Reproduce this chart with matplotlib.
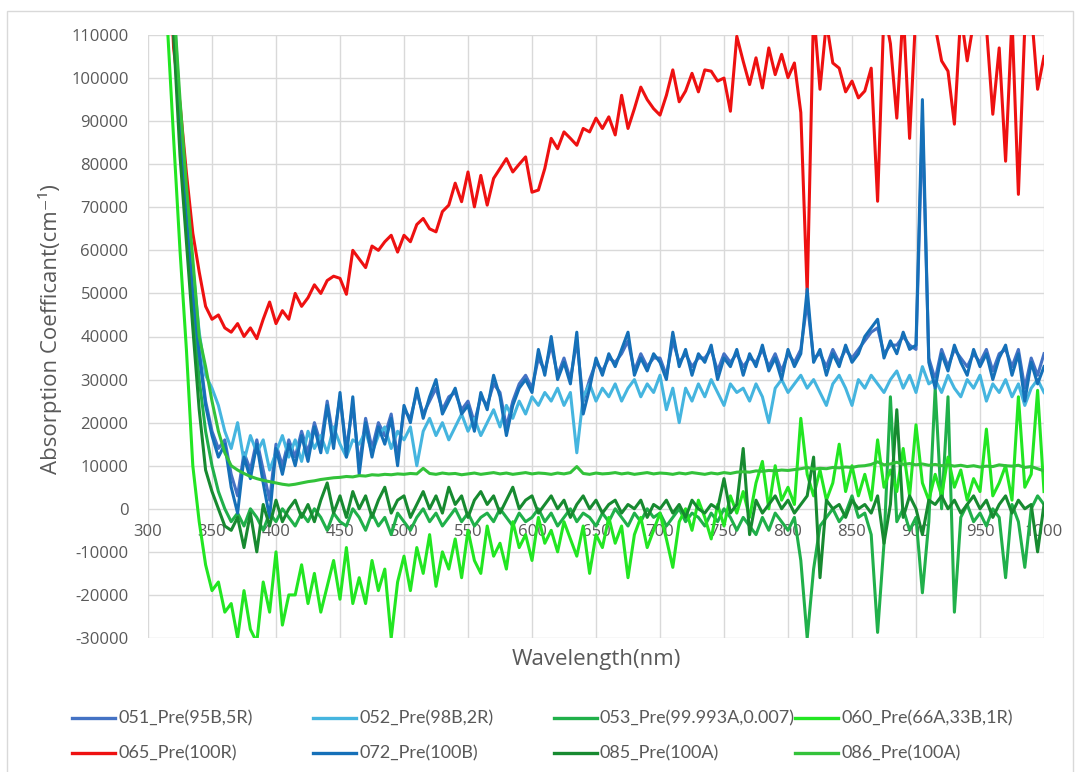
import matplotlib
matplotlib.use('Agg')
import numpy as np
from matplotlib import pyplot as plt
from matplotlib.lines import Line2D
from matplotlib.patches import Rectangle

plt.rcParams['font.family'] = ['Open Sans', 'DejaVu Sans']
plt.rcParams['axes.unicode_minus'] = False

# wavelength grid (nm), absorption values below are in units of 1000 cm^-1
wl = list(range(315, 1001, 5))

pre051 = [150, 113, 87, 69, 51, 37, 25, 18, 14, 16,
          8, 3, 13, 9, 16, 9, 2, 15, 10, 16,
          12, 18, 13, 20, 15, 25, 16, 26, 14, 24,
          10, 21, 14, 20, 17, 22, 12, 23, 21, 27,
          22, 25, 28, 23, 26, 27, 23, 25, 20, 26,
          24, 29, 27, 19, 25, 29, 31, 28, 35, 32,
          38, 31, 35, 30, 39, 25, 30, 34, 32, 35,
          34, 36, 39, 32, 36, 33, 35, 35, 31, 39,
          34, 36, 33, 35, 35, 37, 32, 36, 34, 36,
          33, 35, 34, 37, 33, 36, 32, 36, 34, 37,
          48, 35, 36, 33, 37, 34, 37, 35, 37, 39,
          41, 42, 36, 38, 38, 40, 38, 37, 90, 35,
          30, 37, 33, 37, 35, 33, 36, 34, 37, 32,
          36, 37, 33, 37, 28, 35, 31, 36]

pre052 = [150, 118, 92, 74, 56, 41, 31, 28, 24, 18,
          14, 20, 11, 17, 13, 16, 9, 13, 17, 12,
          16, 11, 18, 14, 17, 13, 19, 15, 12, 16,
          15, 18, 13, 17, 19, 14, 18, 16, 19, 10,
          18, 21, 17, 20, 16, 19, 22, 18, 21, 17,
          20, 23, 19, 24, 21, 25, 22, 26, 24, 27,
          25, 28, 24, 27, 13, 26, 29, 25, 28, 26,
          29, 25, 28, 30, 26, 29, 27, 31, 23, 28,
          20, 28, 25, 29, 26, 30, 27, 24, 29, 27,
          28, 25, 29, 26, 20, 28, 30, 27, 29, 31,
          28, 30, 27, 24, 29, 31, 28, 24, 30, 28,
          31, 29, 27, 30, 32, 28, 31, 27, 33, 29,
          30, 27, 31, 28, 26, 30, 28, 31, 25, 29,
          27, 30, 26, 29, 24, 28, 30, 27]

pre053 = [150, 115, 88, 66, 46, 30, 18, 10, 4, 0,
          -3, -1, -4, 0, -2, -5, -1, -3, 0, -2,
          -4, -1, -3, 0, -2, -5, -1, -3, -4, 0,
          -2, -5, -1, -4, -2, -6, -1, -3, -5, -2,
          0, -3, -1, -4, -2, 0, -3, -1, -4, -2,
          -1, -3, 0, -2, -4, -1, -3, -2, 0, -3,
          -1, -4, -2, 0, -3, -1, -2, -4, -1, -3,
          0, -2, -4, -1, -3, 0, -2, -1, -4, -2,
          0, -3, -1, -2, -4, -1, -3, 0, -2, -5,
          -2, -4, -6, -2, -5, -1, -3, -5, -2, -12,
          -30, -14, -4, -2, 0, -3, -1, 3, -2, -1,
          -6, -28.7, -8, 26, -3, 0, -5, -2, -19.5, -3,
          28, 0, 26, -24, -2, 1, -3, -1, -4, 0,
          -2, -16, 1, -3, -13.6, 0, 3, 1]

pre060 = [113, 86, 60, 37, 10, -3, -13, -19, -17, -24,
          -22, -30, -19, -28, -31, -17, -24, -10, -27, -20,
          -20, -13, -22, -15, -24, -18, -12, -21, -9, -22,
          -16, -22, -12, -19, -14, -30, -17, -11, -19, -9,
          -15, -6, -18, -10, -14, -7, -16, -5, -12, -15,
          -4, -11, -8, -14, -3, -9, -6, -12, -2, -8,
          -5, -10, -3, -7, -11, -4, -15, -6, -9, -2,
          -8, -4, -16, -6, -2, -9, -5, -1, -7, -13.6,
          -3, 0, -5, 2, -2, -7, 1, -4, 3, -1,
          4, -2, 6, 11, 0, 10, 2, 5, 1, 21,
          8, 3, 9, 2, 6, 15, 4, 10, 3, 8,
          2, 16, 5, 9, 4, 14, 3, 19.5, 6, 2,
          8, 3, 12, 5, 9, 2, 7, 4, 18.5, 3,
          6, 10, 2, 26, 5, 8, 27.5, 4]

pre065 = [140, 107, 94, 78, 64, 55, 47, 44, 45, 42,
          41, 43, 40, 42, 39.5, 44, 48, 43, 46, 44,
          50, 47, 49, 52, 50, 53, 54, 53.5, 49.8, 60,
          58, 56, 61, 60, 62, 63.5, 59.6, 63.5, 62, 66,
          67.4, 65, 64.3, 69, 70.5, 75.6, 71.3, 78.2, 70.1, 77.4,
          70.5, 76.7, 79, 81.3, 78.2, 80, 81.7, 73.5, 74, 79,
          86, 83.6, 87.5, 86, 84.4, 88.3, 87.5, 90.7, 88.3, 91,
          86.8, 96, 88.3, 92.9, 97.9, 95, 92.9, 91.4, 96, 101.9,
          94.5, 97, 101.1, 96.8, 101.9, 101.6, 99.3, 100, 92.3, 109.7,
          103.9, 98.5, 104.7, 97.7, 107, 100.8, 105.5, 100.1, 103.5, 92,
          50, 116, 97.4, 113, 103.5, 102.3, 96.8, 99.3, 95.4, 97,
          102.3, 71.4, 116, 108, 90.7, 116, 86, 116, 120, 115,
          112, 104, 101.6, 89.3, 115, 104, 113, 116, 112, 91.6,
          107, 80.7, 114, 73, 112, 116, 97.4, 105]

pre072 = [150, 112, 86, 68, 50, 36, 24, 17, 12, 15,
          5, -1, 12, 7, 15, 6, -2, 14, 8, 15,
          10, 17, 11, 19, 13, 24, 14, 27, 12, 26,
          8, 20, 12, 19, 15, 21, 10, 24, 20, 28,
          21, 26, 30, 22, 25, 28, 22, 24, 18, 27,
          23, 31, 26, 17, 24, 28, 30, 27, 37, 31,
          40, 30, 34, 29, 41, 22, 28, 35, 31, 36,
          33, 37, 41, 31, 35, 32, 36, 34, 30, 41,
          33, 37, 31, 36, 34, 38, 30, 35, 33, 37,
          31, 36, 33, 38, 32, 35, 30, 37, 33, 36,
          51, 34, 37, 31, 36, 33, 38, 34, 36, 40,
          42, 44, 35, 39, 36, 41, 37, 38, 95, 34,
          28, 36, 32, 38, 34, 31, 37, 33, 36, 30,
          35, 38, 31, 36, 25, 34, 29, 33]

pre085 = [150, 110, 82, 62, 42, 23, 9, 4, 0, -4,
          -5, -2, -9, -1, -10, 1, -4, 2, -3, 0,
          2, -2, 1, -3, 2, 6, -1, 3, -2, 4,
          0, 3, -2, 2, 5, -1, 2, 3, -2, 1,
          4, 0, 3, -1, 5, 1, 3, -2, 2, 4,
          1, 3, -1, 2, 5, 0, 2, 3, -1, 1,
          3, 0, 2, -2, 1, 3, 0, 2, -1, 1,
          2, -1, 1, 0, 2, -2, 1, 0, 2, -1,
          1, -2, 2, 0, -1, 1, 0, 7, -1, 1,
          14, -6, 2, -1, 1, 3, 0, 2, -1, 1,
          3, 12, -16, 2, 0, 1, -2, 2, 0, 1,
          -1, 3, -8, 1, 23, -2, 3, 0, -6, 2,
          1, 3, 0, 2, -1, 1, 3, 0, 2, -2,
          1, 3, -1, 2, 0, 1, -10, 1]

pre086 = [150, 118, 95, 75, 58, 40, 33, 25, 18, 13,
          10, 9, 8.2, 7.5, 7, 6.6, 6.3, 6, 5.7, 5.5,
          5.7, 6, 6.3, 6.5, 6.8, 7, 7.2, 7.3, 7.5, 7.4,
          7.7, 7.6, 7.9, 7.8, 8, 7.9, 8.1, 8, 8.2, 8.1,
          9.4, 8.2, 8, 8.3, 8.1, 8.2, 7.9, 8.1, 8.3, 8,
          8.2, 8.4, 8.1, 8.3, 8, 8.2, 8.4, 8.1, 8.3, 8.2,
          8, 8.3, 8.1, 8.4, 9.8, 8.2, 8, 8.3, 8.1, 8.2,
          8.4, 8.1, 8.3, 8, 8.2, 8.4, 8.1, 8.3, 8.2, 8,
          8.3, 8.1, 8.4, 8.2, 8, 8.3, 8.1, 8.4, 8.2, 8.5,
          8.6, 8.5, 8.8, 8.7, 8.9, 8.8, 9, 8.9, 9.1, 9.3,
          9.6, 9.2, 9.4, 9.3, 9.6, 9.5, 9.7, 9.6, 9.9, 10,
          10.3, 10.9, 10.2, 10.4, 10.8, 10.3, 10.5, 10.2, 10.4, 10.1,
          10.3, 10, 10.2, 9.9, 10.1, 9.8, 10, 9.7, 9.9, 9.8,
          10.2, 10, 9.9, 10.1, 9.6, 9.8, 9.3, 8.8]

names = ['051_Pre(95B,5R)', '052_Pre(98B,2R)', '053_Pre(99.993A,0.007)', '060_Pre(66A,33B,1R)',
         '065_Pre(100R)', '072_Pre(100B)', '085_Pre(100A)', '086_Pre(100A)']
data = [pre051, pre052, pre053, pre060, pre065, pre072, pre085, pre086]
colors = ['#4472C4', '#45B5DF', '#20B04A', '#22E622', '#EE1111', '#1570B8', '#178A30', '#33C23A']

xticks = list(range(300, 1001, 50))
yticks = list(range(-30000, 110001, 10000))

W, H = 1078, 772
fig = plt.figure(figsize=(W / 100, H / 100), dpi=100)
ax = fig.add_axes([148 / W, 1 - 638 / H, (1044 - 148) / W, (638 - 35) / H])

for name, vals, c in zip(names, data, colors):
    ax.plot(wl, np.array(vals) * 1000, color=c, lw=2.2, solid_joinstyle='round', zorder=3, label=name)

ax.set_xlim(300, 1000)
ax.set_ylim(-30000, 110000)
ax.set_xticks(xticks)
ax.set_yticks(yticks)
ax.set_yticklabels([str(t) for t in yticks])
ax.grid(color='#d9d9d9', lw=1)
ax.set_axisbelow(True)
for s in ax.spines.values():
    s.set_visible(False)
ax.tick_params(length=0, labelbottom=False, labelsize=12, labelcolor='#595959')
ax.tick_params(axis='y', pad=14)

# x labels sit on the zero line, under the curves
for t in xticks:
    ax.annotate(str(t), (t, 0), xytext=(0, -11), textcoords='offset points',
                ha='center', va='top', fontsize=12, color='#595959', zorder=1)

fig.text(50 / W, 1 - 329 / H, 'Absorption Coefficant(cm⁻¹)', rotation=90,
         ha='center', va='center', fontsize=16, color='#595959')
fig.text(596 / W, 1 - 659 / H, 'Wavelength(nm)', ha='center', va='center',
         fontsize=16, color='#595959')

# legend: 4 equal-width columns, 2 rows
for i, (name, c) in enumerate(zip(names, colors)):
    x0 = 72 + (i % 4) * 241
    y0 = 718 if i < 4 else 753
    fig.add_artist(Line2D([x0 / W, (x0 + 43) / W], [1 - y0 / H, 1 - y0 / H],
                          color=c, lw=2.4, transform=fig.transFigure))
    fig.text((x0 + 46) / W, 1 - y0 / H, name, ha='left', va='center',
             fontsize=13, color='#595959', family=['Lato', 'DejaVu Sans'])

fig.add_artist(Rectangle((7 / W, -0.05), (1073 - 7) / W, 1 - 11 / H + 0.05, fill=False,
                         ec='#d9d9d9', lw=1, transform=fig.transFigure))

fig.savefig('out.png', dpi=100)
